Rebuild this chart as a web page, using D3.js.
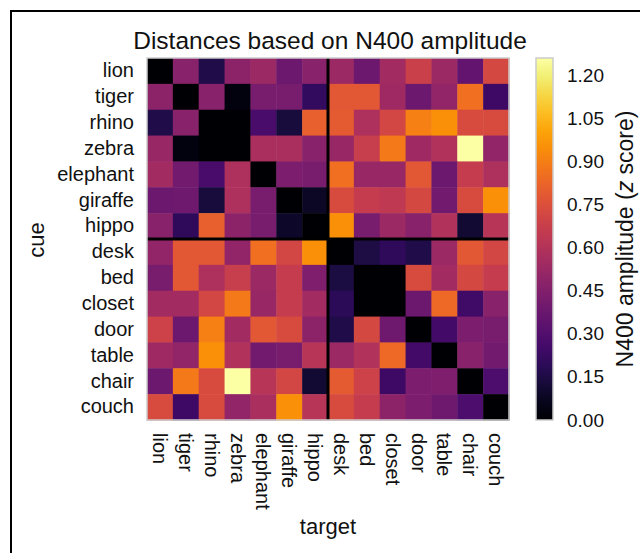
<!DOCTYPE html>
<html>
<head>
<meta charset="utf-8">
<script src="https://cdn.jsdelivr.net/npm/d3@7"></script>
<style>
  body { margin: 0; background: #fff; }
  svg { font-family: "Liberation Sans", Arial, sans-serif; }
</style>
</head>
<body>
<svg id="vis" width="640" height="553"></svg>
<script>
// words, in the order used for both axes
var words = ["lion", "tiger", "rhino", "zebra", "elephant", "giraffe", "hippo",
             "desk", "bed", "closet", "door", "table", "chair", "couch"];

// distance values per cue row (z score)
var lion     = [0.00, 0.47, 0.16, 0.48, 0.53, 0.38, 0.47, 0.53, 0.38, 0.55, 0.68, 0.53, 0.35, 0.72];
var tiger    = [0.48, 0.00, 0.47, 0.03, 0.42, 0.42, 0.21, 0.78, 0.78, 0.54, 0.38, 0.50, 0.86, 0.24];
var rhino    = [0.16, 0.47, 0.00, 0.00, 0.28, 0.13, 0.81, 0.79, 0.59, 0.71, 0.91, 0.95, 0.73, 0.73];
var zebra    = [0.52, 0.03, 0.00, 0.00, 0.58, 0.58, 0.47, 0.52, 0.67, 0.89, 0.54, 0.60, 1.26, 0.50];
var elephant = [0.55, 0.40, 0.28, 0.59, 0.00, 0.43, 0.42, 0.86, 0.52, 0.52, 0.78, 0.38, 0.66, 0.59];
var giraffe  = [0.38, 0.39, 0.13, 0.59, 0.42, 0.00, 0.08, 0.73, 0.66, 0.64, 0.72, 0.40, 0.73, 0.95];
var hippo    = [0.47, 0.20, 0.81, 0.48, 0.42, 0.09, 0.00, 0.95, 0.42, 0.53, 0.47, 0.60, 0.11, 0.62];
var desk     = [0.50, 0.78, 0.78, 0.50, 0.86, 0.71, 0.95, 0.00, 0.15, 0.20, 0.16, 0.53, 0.78, 0.71];
var bed      = [0.42, 0.78, 0.59, 0.67, 0.53, 0.66, 0.44, 0.14, 0.00, 0.00, 0.73, 0.55, 0.72, 0.66];
var closet   = [0.55, 0.55, 0.71, 0.89, 0.52, 0.66, 0.55, 0.19, 0.00, 0.00, 0.38, 0.84, 0.25, 0.47];
var door     = [0.69, 0.38, 0.91, 0.55, 0.78, 0.73, 0.48, 0.16, 0.72, 0.39, 0.00, 0.26, 0.43, 0.42];
var table    = [0.54, 0.50, 0.95, 0.60, 0.40, 0.42, 0.62, 0.53, 0.60, 0.84, 0.26, 0.00, 0.47, 0.40];
var chair    = [0.38, 0.89, 0.73, 1.26, 0.62, 0.71, 0.11, 0.79, 0.69, 0.24, 0.43, 0.44, 0.00, 0.29];
var couch    = [0.73, 0.24, 0.73, 0.50, 0.58, 0.95, 0.62, 0.73, 0.66, 0.48, 0.43, 0.39, 0.29, 0.00];

var rows = [lion, tiger, rhino, zebra, elephant, giraffe, hippo,
            desk, bed, closet, door, table, chair, couch];

var colorTicks = [0.00, 0.15, 0.30, 0.45, 0.60, 0.75, 0.90, 1.05, 1.20];
var vmax = 1.26;

var svg = d3.select('#vis');

// outer frame (runs off the right and bottom of the picture)
svg.append('rect')
    .attr('x', 11).attr('y', 11)
    .attr('width', 700).attr('height', 700)
    .attr('fill', 'none')
    .attr('stroke', '#000')
    .attr('stroke-width', 2);

var hm = {x: 147, y: 58, size: 362};

var x = d3.scaleBand().domain(words).range([hm.x, hm.x + hm.size]);
var y = d3.scaleBand().domain(words).range([hm.y, hm.y + hm.size]);
var color = d3.scaleSequential(d3.interpolateInferno).domain([0, vmax]);

// flatten rows into cells
var cells = [];
rows.forEach(function (r, i) {
    r.forEach(function (v, j) {
        cells.push({cue: words[i], target: words[j], value: v});
    });
});

svg.append('g').attr('class', 'cells')
    .selectAll('rect')
    .data(cells)
    .enter().append('rect')
    .attr('x', function (d) { return x(d.target); })
    .attr('y', function (d) { return y(d.cue); })
    .attr('width', x.bandwidth() + 0.5)
    .attr('height', y.bandwidth() + 0.5)
    .attr('fill', function (d) { return color(d.value); });

// separators between animals and furniture
var split = x('desk');
svg.append('line')
    .attr('x1', split).attr('x2', split)
    .attr('y1', hm.y).attr('y2', hm.y + hm.size)
    .attr('stroke', '#000').attr('stroke-width', 3);
svg.append('line')
    .attr('x1', hm.x).attr('x2', hm.x + hm.size)
    .attr('y1', y('desk')).attr('y2', y('desk'))
    .attr('stroke', '#000').attr('stroke-width', 3);

// light frame round the heatmap
svg.append('rect')
    .attr('x', hm.x).attr('y', hm.y)
    .attr('width', hm.size).attr('height', hm.size)
    .attr('fill', 'none')
    .attr('stroke', '#cccccc')
    .attr('stroke-width', 1.5);

// axes (no tick marks, just labels)
var yAxis = svg.append('g')
    .attr('transform', 'translate(' + hm.x + ',0)')
    .call(d3.axisLeft(y).tickSize(0).tickPadding(13));
yAxis.select('.domain').remove();
yAxis.selectAll('text')
    .attr('fill', '#111')
    .style('font-size', '20px')
    .style('font-family', '"Liberation Sans", Arial, sans-serif');

var xAxis = svg.append('g')
    .attr('transform', 'translate(0,' + (hm.y + hm.size) + ')')
    .call(d3.axisBottom(x).tickSize(0));
xAxis.select('.domain').remove();
xAxis.selectAll('text')
    .attr('fill', '#111')
    .style('font-size', '20px')
    .style('font-family', '"Liberation Sans", Arial, sans-serif')
    .attr('transform', 'rotate(90)')
    .attr('x', 13)
    .attr('y', 0)
    .attr('dy', '0.35em')
    .style('text-anchor', 'start');

// title and axis titles
svg.append('text')
    .attr('x', 330).attr('y', 49)
    .style('text-anchor', 'middle')
    .style('font-size', '24.5px')
    .attr('fill', '#111')
    .text('Distances based on N400 amplitude');

svg.append('text')
    .attr('transform', 'translate(44,240) rotate(-90)')
    .style('text-anchor', 'middle')
    .style('font-size', '22px')
    .attr('fill', '#111')
    .text('cue');

svg.append('text')
    .attr('x', hm.x + hm.size / 2).attr('y', 534)
    .style('text-anchor', 'middle')
    .style('font-size', '22px')
    .attr('fill', '#111')
    .text('target');

// colour bar
var cb = {x: 536, y: 58, w: 17, h: 362};
var cy = d3.scaleLinear().domain([0, vmax]).range([cb.y + cb.h, cb.y]);

var defs = svg.append('defs');
var grad = defs.append('linearGradient')
    .attr('id', 'cbar')
    .attr('x1', 0).attr('x2', 0).attr('y1', 1).attr('y2', 0);
d3.range(0, 1.0001, 0.05).forEach(function (t) {
    grad.append('stop')
        .attr('offset', t)
        .attr('stop-color', d3.interpolateInferno(t));
});

svg.append('rect')
    .attr('x', cb.x).attr('y', cb.y)
    .attr('width', cb.w).attr('height', cb.h)
    .attr('fill', 'url(#cbar)')
    .attr('stroke', '#cccccc')
    .attr('stroke-width', 1.5);

var cAxis = svg.append('g')
    .attr('transform', 'translate(' + (cb.x + cb.w) + ',0)')
    .call(d3.axisRight(cy).tickValues(colorTicks).tickFormat(d3.format('.2f')).tickSize(0).tickPadding(14));
cAxis.select('.domain').remove();
cAxis.selectAll('text')
    .attr('fill', '#111')
    .style('font-size', '19px')
    .style('font-family', '"Liberation Sans", Arial, sans-serif');

var cLabel = svg.append('text')
    .attr('transform', 'translate(633,' + (cb.y + cb.h / 2) + ') rotate(-90)')
    .style('text-anchor', 'middle')
    .style('font-size', '23px')
    .attr('fill', '#111');
cLabel.append('tspan').text('N400 amplitude (');
cLabel.append('tspan').style('font-style', 'italic').text('z');
cLabel.append('tspan').text(' score)');
</script>
</body>
</html>
